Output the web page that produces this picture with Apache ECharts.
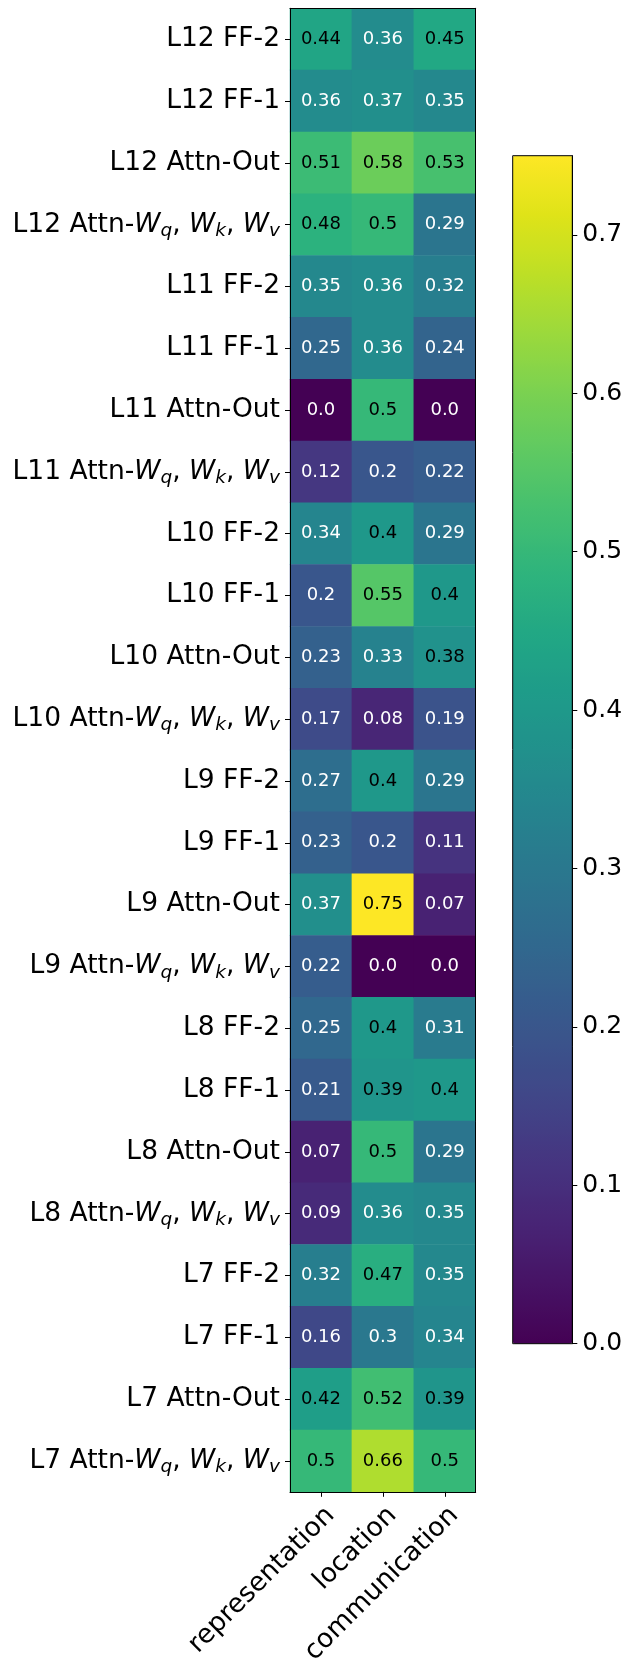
<!DOCTYPE html>
<html>
<head>
<meta charset="utf-8">
<script src="https://cdn.jsdelivr.net/npm/echarts@6/dist/echarts.min.js"></script>
<style>
  html, body { margin: 0; padding: 0; background: #fff; }
  #chart { width: 627px; height: 1659px; }
</style>
</head>
<body>
<div id="chart"></div>
<script>
// Rows, top to bottom
const rowNames = [
  'L12 FF-2', 'L12 FF-1', 'L12 Attn-Out', 'L12 Attn-W_q, W_k, W_v',
  'L11 FF-2', 'L11 FF-1', 'L11 Attn-Out', 'L11 Attn-W_q, W_k, W_v',
  'L10 FF-2', 'L10 FF-1', 'L10 Attn-Out', 'L10 Attn-W_q, W_k, W_v',
  'L9 FF-2', 'L9 FF-1', 'L9 Attn-Out', 'L9 Attn-W_q, W_k, W_v',
  'L8 FF-2', 'L8 FF-1', 'L8 Attn-Out', 'L8 Attn-W_q, W_k, W_v',
  'L7 FF-2', 'L7 FF-1', 'L7 Attn-Out', 'L7 Attn-W_q, W_k, W_v'
];
const columns = ['representation', 'location', 'communication'];

const repValues = [0.44, 0.36, 0.51, 0.48, 0.35, 0.25, 0.0, 0.12, 0.34, 0.2, 0.23, 0.17,
                   0.27, 0.23, 0.37, 0.22, 0.25, 0.21, 0.07, 0.09, 0.32, 0.16, 0.42, 0.5];
const locValues = [0.36, 0.37, 0.58, 0.5, 0.36, 0.36, 0.5, 0.2, 0.4, 0.55, 0.33, 0.08,
                   0.4, 0.2, 0.75, 0.0, 0.4, 0.39, 0.5, 0.36, 0.47, 0.3, 0.52, 0.66];
const comValues = [0.45, 0.35, 0.53, 0.29, 0.32, 0.24, 0.0, 0.22, 0.29, 0.4, 0.38, 0.19,
                   0.29, 0.11, 0.07, 0.0, 0.31, 0.4, 0.29, 0.35, 0.35, 0.34, 0.39, 0.5];

const colorbarTicks = [0, 0.1, 0.2, 0.3, 0.4, 0.5, 0.6, 0.7];

// viridis colormap stops
const viridis = ['#440154', '#471365', '#482475', '#463480', '#414487', '#3b528b', '#355f8d',
  '#2f6c8e', '#2a788e', '#25848e', '#21918c', '#1e9c89', '#22a884', '#2fb47c', '#44bf70',
  '#5ec962', '#7ad151', '#9bd93c', '#bddf26', '#dfe318', '#fde725'];

const FONT = 'DejaVu Sans';
const columnValues = [repValues, locValues, comValues];
const allValues = columnValues.flat();
const vmin = Math.min(...allValues);
const vmax = Math.max(...allValues);
const threshold = (vmin + vmax) / 2;

const cells = [];
columnValues.forEach((vals, ci) => {
  vals.forEach((v, ri) => {
    cells.push({
      value: [ci, ri, v],
      label: { color: v < threshold ? '#ffffff' : '#000000' }
    });
  });
});

function fmtValue(v) {
  const s = String(v);
  return s.indexOf('.') >= 0 ? s : s + '.0';
}

// Row names use W_x for an italic W with subscript x
function richRowLabel(name) {
  return name.split(/(W_[a-z])/).map(p => {
    const m = p.match(/^W_([a-z])$/);
    if (m) return '{i|W}{s|' + m[1] + '}';
    return p ? '{n|' + p + '}' : '';
  }).join('');
}

const frameLine = { show: true, onZero: false, lineStyle: { color: '#000', width: 1 } };
const LABEL_SIZE = 26.5;

const G0 = { left: 290, top: 8.3, width: 185.7, height: 1483.5 };
const G1 = { left: 512.7, top: 155.7, width: 59.6, height: 1188 };

const chart = echarts.init(document.getElementById('chart'), null, { renderer: 'canvas' });

chart.setOption({
  animation: false,
  backgroundColor: '#ffffff',
  textStyle: { fontFamily: FONT },
  grid: [
    Object.assign({ containLabel: false, outerBoundsMode: 'none' }, G0),
    // colorbar frame: drawn above the gradient bar
    Object.assign({
      containLabel: false, outerBoundsMode: 'none', show: true, z: 10,
      backgroundColor: 'transparent', borderColor: '#000', borderWidth: 1
    }, G1)
  ],
  xAxis: [
    {
      gridIndex: 0, type: 'category', data: columns, position: 'bottom', z: 10,
      axisLine: frameLine,
      axisTick: { show: true, alignWithLabel: true, length: 5, lineStyle: { color: '#000' } },
      axisLabel: {
        rotate: 45, align: 'right', verticalAlign: 'top', margin: 10,
        fontSize: LABEL_SIZE, color: '#000', fontFamily: FONT, interval: 0
      },
      splitLine: { show: false }
    },
    {
      gridIndex: 0, type: 'category', data: columns, position: 'top', z: 10,
      axisLine: frameLine, axisTick: { show: false }, axisLabel: { show: false },
      splitLine: { show: false }
    },
    {
      gridIndex: 1, type: 'value', min: 0, max: 1, show: false
    }
  ],
  yAxis: [
    {
      gridIndex: 0, type: 'category', data: rowNames, inverse: true, position: 'left', z: 10,
      axisLine: frameLine,
      axisTick: { show: true, alignWithLabel: true, length: 5, lineStyle: { color: '#000' } },
      axisLabel: {
        margin: 10, interval: 0,
        formatter: richRowLabel,
        rich: {
          n: { fontSize: LABEL_SIZE, fontFamily: FONT, color: '#000', lineHeight: 32 },
          i: { fontSize: LABEL_SIZE, fontFamily: FONT, fontStyle: 'italic', color: '#000', lineHeight: 32 },
          s: { fontSize: 18.5, fontFamily: FONT, fontStyle: 'italic', color: '#000',
               lineHeight: 19, verticalAlign: 'bottom' }
        }
      },
      splitLine: { show: false }
    },
    {
      gridIndex: 0, type: 'category', data: rowNames, inverse: true, position: 'right', z: 10,
      axisLine: frameLine, axisTick: { show: false }, axisLabel: { show: false },
      splitLine: { show: false }
    },
    {
      gridIndex: 1, type: 'value', min: 0, max: vmax, position: 'right', z: 10,
      axisLine: frameLine,
      axisTick: { show: true, length: 5, customValues: colorbarTicks, lineStyle: { color: '#000' } },
      axisLabel: {
        customValues: colorbarTicks, margin: 10, fontSize: 25, color: '#000', fontFamily: FONT,
        formatter: v => v.toFixed(1)
      },
      splitLine: { show: false }
    }
  ],
  visualMap: {
    type: 'continuous',
    min: 0, max: vmax,
    seriesIndex: 0, dimension: 2,
    inRange: { color: viridis },
    calculable: false, hoverLink: false,
    orient: 'vertical',
    left: G1.left, top: G1.top,
    itemWidth: G1.width, itemHeight: G1.height,
    padding: 0,
    text: null
  },
  series: [{
    type: 'heatmap',
    xAxisIndex: 0, yAxisIndex: 0,
    data: cells,
    itemStyle: { borderWidth: 0 },
    label: {
      show: true, fontSize: 18, fontFamily: FONT,
      formatter: p => fmtValue(p.value[2])
    },
    emphasis: { disabled: true }
  }]
});
</script>
</body>
</html>
